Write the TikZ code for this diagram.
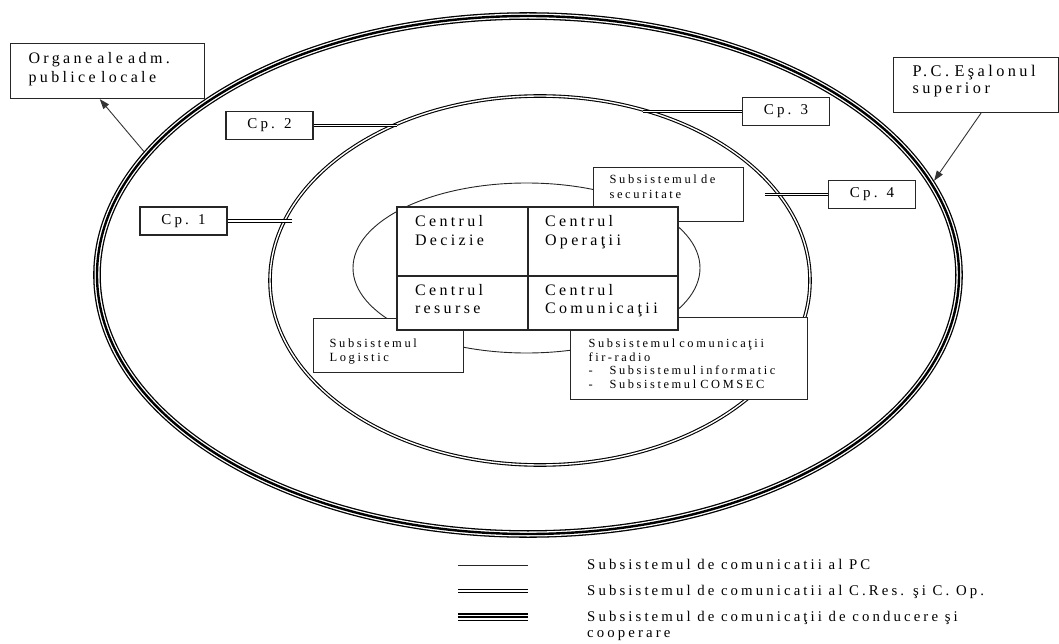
\documentclass[tikz,border=0pt]{standalone}
\usepackage{fontspec}
\setmainfont{Liberation Serif}[LetterSpace=21]
\usetikzlibrary{arrows.meta, positioning, calc}

% the scan of the figure has widely spaced letters and words
\newcommand{\fsz}[2]{\fontsize{#1}{#2}\selectfont
  \fontdimen2\font=0.45em\fontdimen3\font=0pt\fontdimen4\font=0pt\relax}
\newcommand{\lines}[1]{\begin{tabular}[t]{@{}l@{}}#1\end{tabular}}

\tikzset{
  triple/.style={draw=black, line width=7.6pt,
    postaction={draw=white, line width=5pt},
    postaction={draw=black, line width=2.4pt}},
  dbl/.style={draw=black, double=white, line width=1.1pt, double distance=1.4pt},
  sgl/.style={draw=black!85, line width=0.9pt},
  box/.style={draw=black!85, line width=1.1pt, fill=white, anchor=north west,
    align=left, inner ysep=0pt},
  cpbox/.style={draw=black!85, line width=1.1pt, fill=white, minimum width=87pt,
    minimum height=28pt, inner sep=0pt, font=\fsz{15}{17}},
  cell/.style={draw=black!85, line width=1.4pt, fill=white, align=left,
    anchor=north west, inner ysep=0pt, outer sep=0pt, font=\fsz{16}{18}},
  arr/.style={draw=black!80, line width=0.9pt, -{Triangle[length=10pt, width=7pt]}},
  legtxt/.style={anchor=base west, inner sep=0pt, font=\fsz{14.8}{16}},
}

\begin{document}
\begin{tikzpicture}[x=1pt, y=-1pt]
  \useasboundingbox (0,0) rectangle (1059,644);

  % the three rings
  \coordinate (oc) at (528,275);
  \coordinate (mc) at (540,280.5);
  \coordinate (ic) at (526.5,268);
  \draw[triple] (oc) ellipse [x radius=431pt, y radius=259pt];
  \draw[dbl] (mc) ellipse [x radius=270pt, y radius=184.5pt];
  \draw[sgl] (ic) ellipse [x radius=173.5pt, y radius=85pt];

  % subsystems (behind the centre)
  \node[box, inner xsep=16pt, text width=118pt, text height=16pt, text depth=38pt,
    font=\fsz{12.5}{15}] (sec) at (593,167)
    {\lines{Subsistemul de\\securitate}};
  \node[box, inner xsep=16pt, text width=118pt, text height=29pt, text depth=25pt,
    font=\fsz{12.5}{14}] (log) at (313,318)
    {\lines{Subsistemul\\Logistic}};
  \node[box, inner xsep=18pt, text width=201pt, text height=30pt, text depth=52pt,
    font=\fsz{12.4}{13.5}] (fir) at (570,317)
    {\lines{Subsistemul comunicaţii\\fir-radio\\
     \makebox[21pt][l]{-}Subsistemul informatic\\
     \makebox[21pt][l]{-}Subsistemul COMSEC}};

  % centre of the command post
  \node[cell, inner xsep=18pt, text width=95pt,
    text height=20pt, text depth=49pt] (dec) at (397,207)
    {\lines{Centrul\\Decizie}};
  \node[cell, inner xsep=17pt, text width=116pt,
    text height=20pt, text depth=49pt] (ope) at (dec.north east)
    {\lines{Centrul\\Operaţii}};
  \node[cell, inner xsep=18pt, text width=95pt,
    text height=19pt, text depth=35pt] (res) at (dec.south west)
    {\lines{Centrul\\resurse}};
  \node[cell, inner xsep=17pt, text width=116pt,
    text height=19pt, text depth=35pt] (com) at (ope.south west)
    {\lines{Centrul\\Comunicaţii}};

  % outside partners
  \node[box, inner xsep=18pt, text width=158pt, text height=20pt, text depth=35pt,
    font=\fsz{16}{19}] (org) at (10,43)
    {\lines{Organe ale adm.\\publice locale}};
  \node[box, inner xsep=19pt, text width=127pt, text height=19pt, text depth=36pt,
    font=\fsz{16.3}{17}] (pc) at (893,57)
    {\lines{P.C. Eşalonul\\superior}};

  % companies
  \node[cpbox] (cp1) at (183.5,221) {Cp. 1};
  \node[cpbox] (cp2) at (269.5,125.5) {Cp. 2};
  \node[cpbox] (cp3) at (786,111.5) {Cp. 3};
  \node[cpbox] (cp4) at (872,194.5) {Cp. 4};
  \coordinate (cp1end) at (292,221);
  \coordinate (cp2end) at (397,125.5);
  \coordinate (cp3end) at (643,111.5);
  \coordinate (cp4end) at (765,194.5);
  \draw[dbl] (cp1.east) -- (cp1end);
  \draw[dbl] (cp2.east) -- (cp2end);
  \draw[dbl] (cp3end) -- (cp3.west);
  \draw[dbl] (cp4end) -- (cp4.west);

  % links to the outside
  \coordinate (orgtail) at ($(oc)+(152:435pt and 263pt)$);
  \coordinate (pctip) at ($(oc)+(21:435pt and 263pt)$);
  \draw[arr] (orgtail) -- ($(org.south west)!0.46!(org.south east)$);
  \draw[arr] ($(pc.south west)!0.53!(pc.south east)$) -- (pctip);

  % legend
  \draw[sgl] (458,565) -- (528,565);
  \draw[dbl] (458,591) -- (528,591);
  \draw[triple] (458,617) -- (528,617);
  \node[legtxt] (leg1) at (587,569) {Subsistemul de comunicatii al PC};
  \node[legtxt] (leg2) at (587,595) {Subsistemul de comunicatii al C.Res. şi C. Op.};
  \node[legtxt] (leg3) at (587,621) {\lines{Subsistemul de comunicaţii de conducere şi\\cooperare}};
\end{tikzpicture}
\end{document}
